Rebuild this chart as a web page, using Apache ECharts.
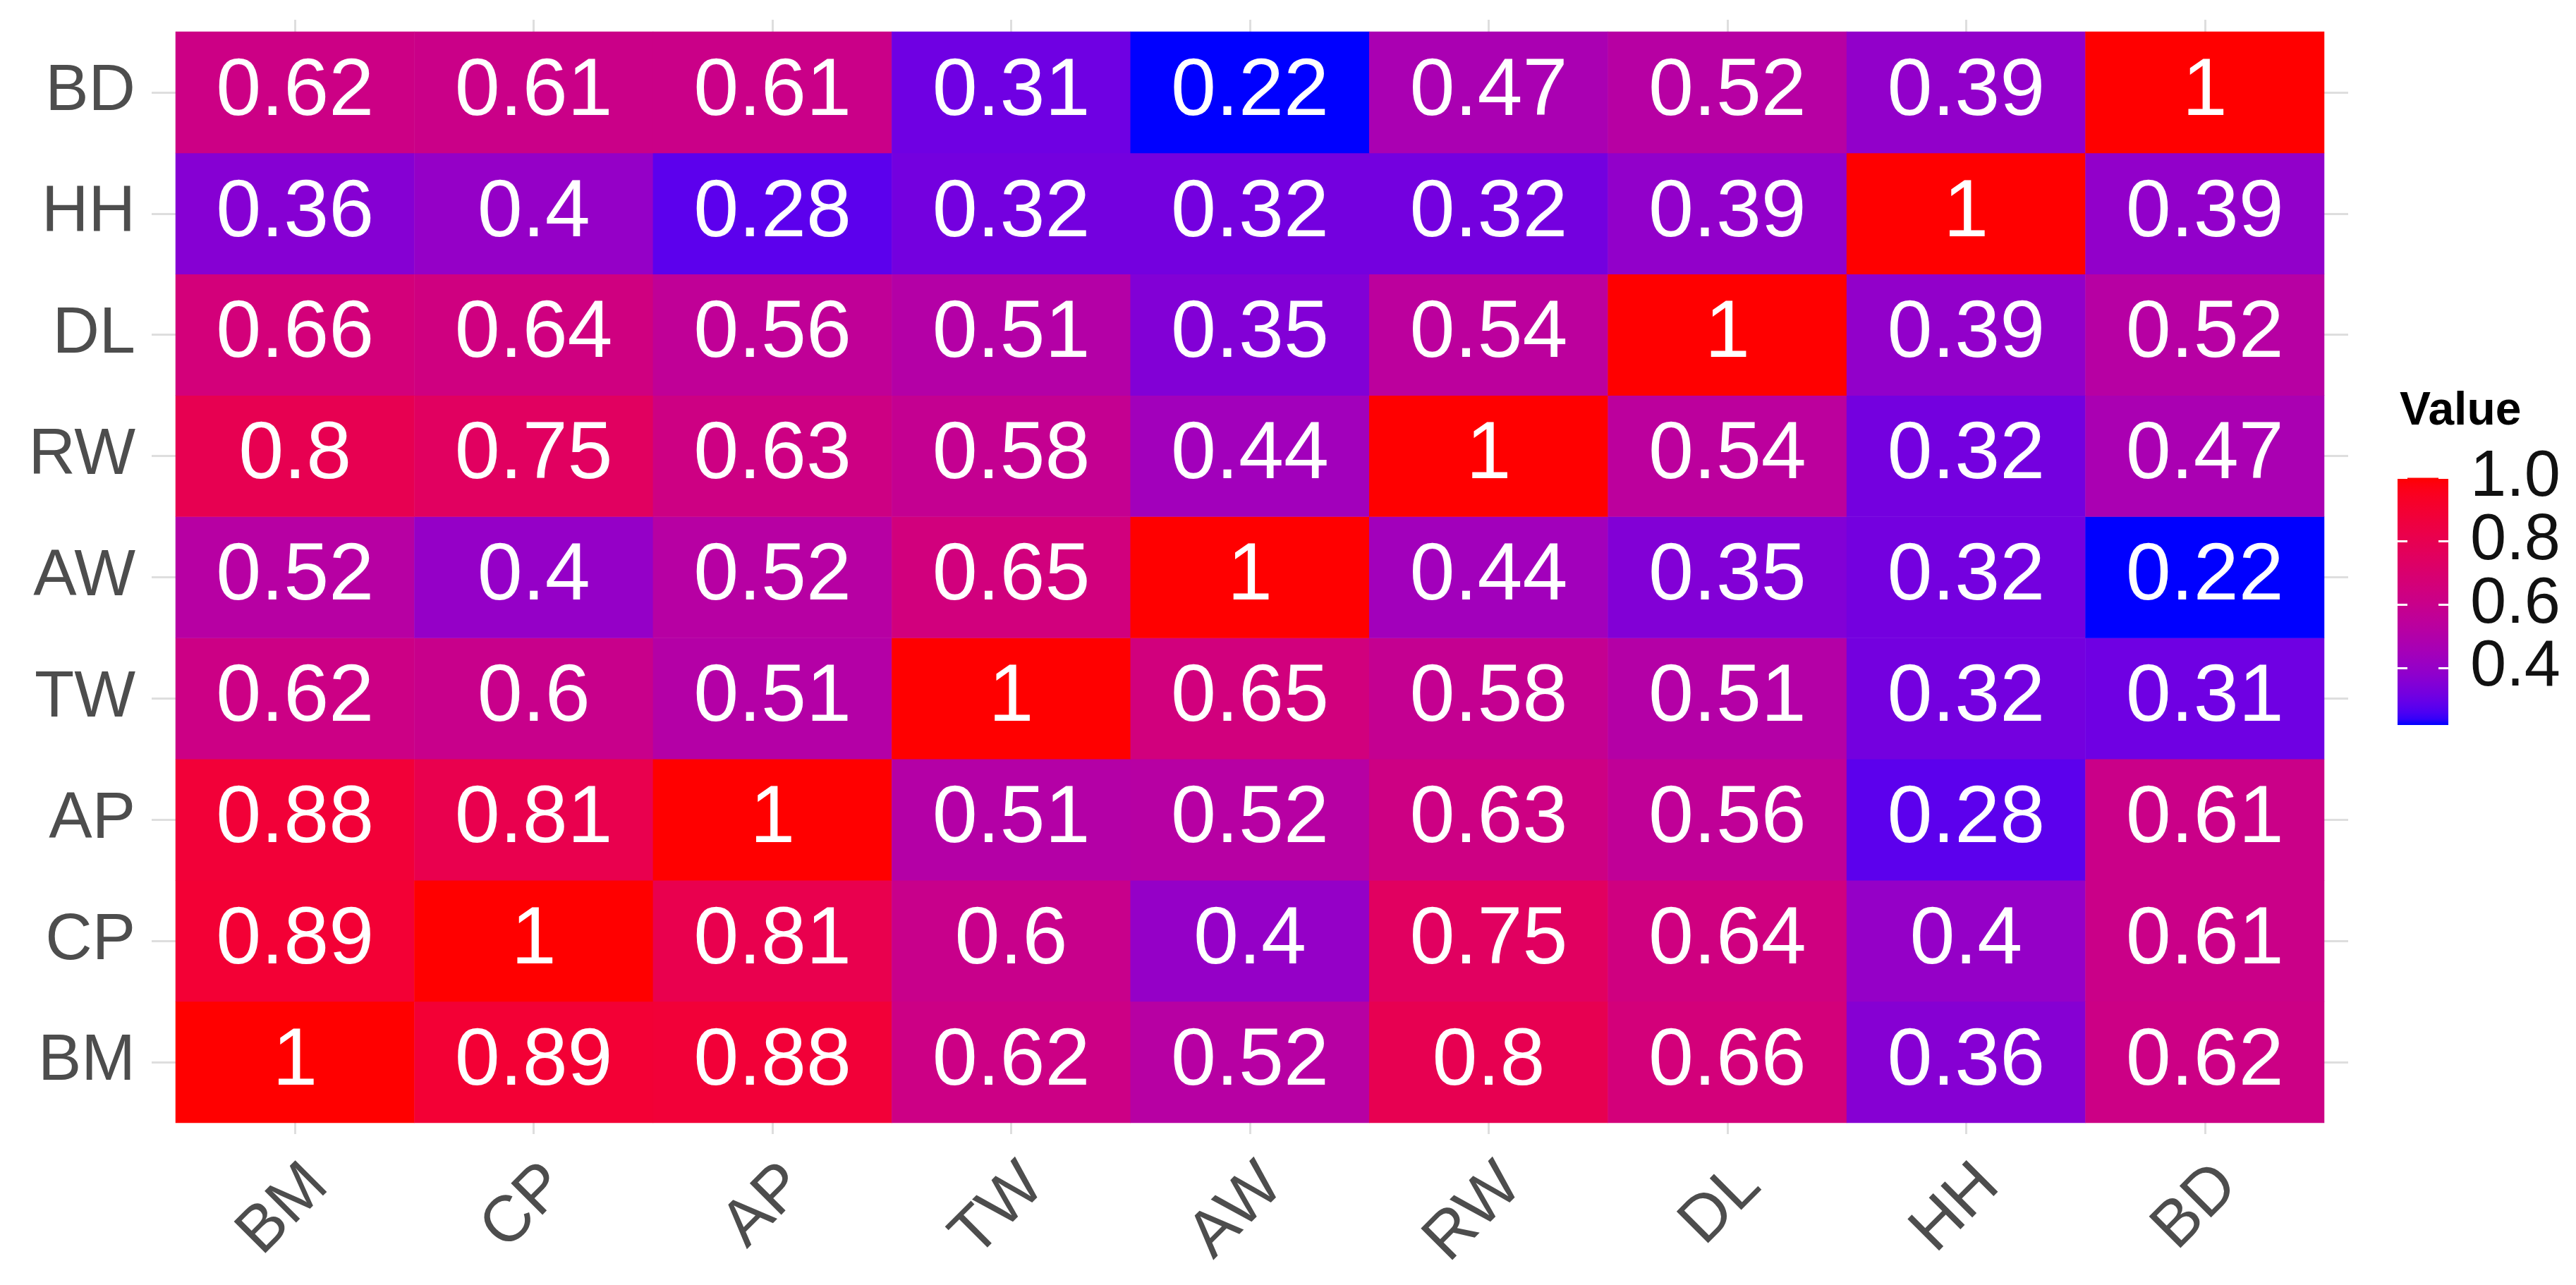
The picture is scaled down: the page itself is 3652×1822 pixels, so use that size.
<!DOCTYPE html>
<html>
<head>
<meta charset="utf-8">
<script src="https://cdn.jsdelivr.net/npm/echarts@6/dist/echarts.min.js"></script>
<style>
html,body{margin:0;padding:0;background:#fff;}
#chart{width:3652px;height:1822px;}
</style>
</head>
<body>
<div id="chart"></div>
<script>
// ---- data ----
var categories = ['BM', 'CP', 'AP', 'TW', 'AW', 'RW', 'DL', 'HH', 'BD'];
// each row: values for x = BM, CP, AP, TW, AW, RW, DL, HH, BD
var rowBM = [1, 0.89, 0.88, 0.62, 0.52, 0.8, 0.66, 0.36, 0.62];
var rowCP = [0.89, 1, 0.81, 0.6, 0.4, 0.75, 0.64, 0.4, 0.61];
var rowAP = [0.88, 0.81, 1, 0.51, 0.52, 0.63, 0.56, 0.28, 0.61];
var rowTW = [0.62, 0.6, 0.51, 1, 0.65, 0.58, 0.51, 0.32, 0.31];
var rowAW = [0.52, 0.4, 0.52, 0.65, 1, 0.44, 0.35, 0.32, 0.22];
var rowRW = [0.8, 0.75, 0.63, 0.58, 0.44, 1, 0.54, 0.32, 0.47];
var rowDL = [0.66, 0.64, 0.56, 0.51, 0.35, 0.54, 1, 0.39, 0.52];
var rowHH = [0.36, 0.4, 0.28, 0.32, 0.32, 0.32, 0.39, 1, 0.39];
var rowBD = [0.62, 0.61, 0.61, 0.31, 0.22, 0.47, 0.52, 0.39, 1];
var rows = [rowBM, rowCP, rowAP, rowTW, rowAW, rowRW, rowDL, rowHH, rowBD];
var legendTicks = [0.4, 0.6, 0.8, 1.0];
var legendTitle = 'Value';

// ---- build heatmap data ----
var heatData = [];
var allVals = [];
rows.forEach(function (row, yi) {
  row.forEach(function (v, xi) {
    heatData.push([xi, yi, v]);
    allVals.push(v);
  });
});
var vMin = Math.min.apply(null, allVals);
var vMax = Math.max.apply(null, allVals);

// ---- Lab interpolation (like ggplot2 scale_fill_gradient) ----
function toLin(c) { c /= 255; return c <= 0.04045 ? c / 12.92 : Math.pow((c + 0.055) / 1.055, 2.4); }
function fromLin(c) { var v = c <= 0.0031308 ? 12.92 * c : 1.055 * Math.pow(c, 1 / 2.4) - 0.055; return Math.max(0, Math.min(255, Math.round(v * 255))); }
var WX = 0.95047, WY = 1.0, WZ = 1.08883;
function f(t) { return t > 0.008856 ? Math.cbrt(t) : 7.787 * t + 16 / 116; }
function finv(t) { var t3 = t * t * t; return t3 > 0.008856 ? t3 : (t - 16 / 116) / 7.787; }
function rgb2lab(rgb) {
  var R = toLin(rgb[0]), G = toLin(rgb[1]), B = toLin(rgb[2]);
  var X = (0.4124 * R + 0.3576 * G + 0.1805 * B) / WX;
  var Y = (0.2126 * R + 0.7152 * G + 0.0722 * B) / WY;
  var Z = (0.0193 * R + 0.1192 * G + 0.9505 * B) / WZ;
  var fx = f(X), fy = f(Y), fz = f(Z);
  return [116 * fy - 16, 500 * (fx - fy), 200 * (fy - fz)];
}
function lab2rgb(lab) {
  var fy = (lab[0] + 16) / 116, fx = fy + lab[1] / 500, fz = fy - lab[2] / 200;
  var X = finv(fx) * WX, Y = finv(fy) * WY, Z = finv(fz) * WZ;
  var R = 3.2406 * X - 1.5372 * Y - 0.4986 * Z;
  var G = -0.9689 * X + 1.8758 * Y + 0.0415 * Z;
  var B = 0.0557 * X - 0.2040 * Y + 1.0570 * Z;
  return 'rgb(' + fromLin(R) + ',' + fromLin(G) + ',' + fromLin(B) + ')';
}
var labLow = rgb2lab([0, 0, 255]), labHigh = rgb2lab([255, 0, 0]);
var N = 40, rampColors = [];
for (var i = 0; i <= N; i++) {
  var t = i / N;
  rampColors.push(lab2rgb([labLow[0] + (labHigh[0] - labLow[0]) * t, labLow[1] + (labHigh[1] - labLow[1]) * t, labLow[2] + (labHigh[2] - labLow[2]) * t]));
}
var gradStops = rampColors.map(function (c, i) { return { offset: 1 - i / N, color: c }; }).reverse();

function isLegendTick(v) {
  for (var k = 0; k < legendTicks.length; k++) { if (Math.abs(v - legendTicks[k]) < 1e-6) return true; }
  return false;
}

var FONT = '"Liberation Sans", Arial, sans-serif';
var GRIDCOL = '#DEDEDE';

var chart = echarts.init(document.getElementById('chart'), null, { renderer: 'canvas' });
var option = {
  animation: false,
  backgroundColor: '#ffffff',
  title: {
    text: legendTitle, left: 3397, top: 546,
    textStyle: { fontFamily: FONT, fontSize: 66, fontWeight: 'bold', color: '#000' }
  },
  grid: [
    { left: 249, top: 45, width: 3046, height: 1547 },
    { left: 3399, top: 677, width: 72, height: 360 }
  ],
  xAxis: [
    {
      type: 'category', gridIndex: 0, position: 'bottom', data: categories,
      axisLine: { show: false },
      axisTick: { show: true, alignWithLabel: true, length: 16, lineStyle: { color: GRIDCOL, width: 3 } },
      axisLabel: { rotate: 45, fontSize: 92, fontFamily: FONT, color: '#4D4D4D', margin: 42, verticalAlign: 'top' },
      splitLine: { show: false }
    },
    {
      type: 'category', gridIndex: 0, position: 'top', data: categories,
      axisLine: { show: false },
      axisTick: { show: true, alignWithLabel: true, length: 17, lineStyle: { color: GRIDCOL, width: 3 } },
      axisLabel: { show: false }, splitLine: { show: false }
    },
    {
      type: 'category', gridIndex: 1, data: [''],
      axisLine: { show: false }, axisTick: { show: false }, axisLabel: { show: false }
    }
  ],
  yAxis: [
    {
      type: 'category', gridIndex: 0, position: 'left', data: categories,
      axisLine: { show: false },
      axisTick: { show: true, alignWithLabel: true, length: 34, lineStyle: { color: GRIDCOL, width: 3 } },
      axisLabel: { fontSize: 92, fontFamily: FONT, color: '#4D4D4D', margin: 57 },
      splitLine: { show: false }
    },
    {
      type: 'category', gridIndex: 0, position: 'right', data: categories,
      axisLine: { show: false },
      axisTick: { show: true, alignWithLabel: true, length: 34, lineStyle: { color: GRIDCOL, width: 3 } },
      axisLabel: { show: false }, splitLine: { show: false }
    },
    {
      type: 'value', gridIndex: 1, position: 'left', min: 0.2, max: 1.001, interval: 0.2,
      axisLine: { show: false },
      axisTick: { show: true, inside: true, length: 14, lineStyle: { color: '#fff', width: 3 } },
      axisLabel: { show: false }, splitLine: { show: false }, z: 10
    },
    {
      type: 'value', gridIndex: 1, position: 'right', min: 0.2, max: 1.001, interval: 0.2,
      axisLine: { show: false },
      axisTick: { show: true, inside: true, length: 14, lineStyle: { color: '#fff', width: 3 } },
      axisLabel: {
        show: true, showMinLabel: false, hideOverlap: false,
        fontSize: 92, fontFamily: FONT, color: '#111', margin: 31,
        formatter: function (v) { return isLegendTick(v) ? v.toFixed(1) : ''; }
      },
      splitLine: { show: false }, z: 10
    }
  ],
  visualMap: {
    type: 'continuous', show: false, min: vMin, max: vMax, dimension: 2, seriesIndex: 0,
    inRange: { color: rampColors }
  },
  series: [
    {
      type: 'heatmap', xAxisIndex: 0, yAxisIndex: 0, data: heatData,
      label: {
        show: true, color: '#fff', fontSize: 115, fontFamily: FONT,
        formatter: function (p) { return String(p.value[2]); }
      },
      itemStyle: { borderWidth: 0 },
      emphasis: { disabled: true }
    },
    {
      type: 'bar', xAxisIndex: 2, yAxisIndex: 2, stack: 'cb', barWidth: '100%',
      data: [vMin], itemStyle: { color: 'rgba(0,0,0,0)' }, silent: true
    },
    {
      type: 'bar', xAxisIndex: 2, yAxisIndex: 2, stack: 'cb', barWidth: '100%',
      data: [vMax - vMin], silent: true,
      itemStyle: { color: new echarts.graphic.LinearGradient(0, 0, 0, 1, gradStops) }
    }
  ]
};
chart.setOption(option);
</script>
</body>
</html>
